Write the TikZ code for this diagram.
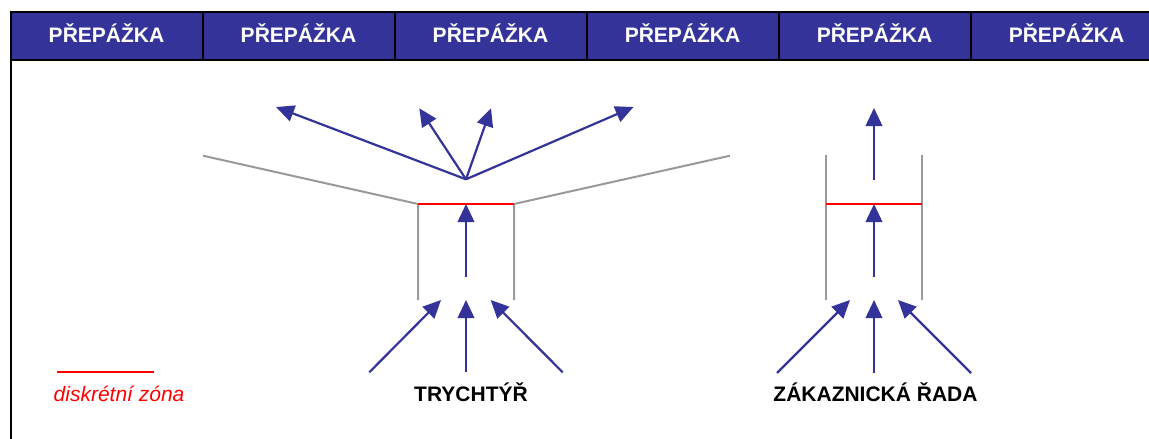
\documentclass[tikz,border=0pt]{standalone}
\usepackage{fontspec}
\setmainfont{Liberation Sans}
\usetikzlibrary{arrows.meta}
\definecolor{counterblue}{HTML}{333399}
\definecolor{wallgray}{HTML}{999999}
\definecolor{zonered}{HTML}{FF0000}
\tikzset{
  rule/.style={draw=black, line width=2pt},
  countertext/.style={text=white, font=\fontsize{21}{25}\selectfont\bfseries, anchor=base, inner sep=0pt},
  wall/.style={draw=wallgray, line width=2pt},
  zone/.style={draw=zonered, line width=2pt},
  flow/.style={draw=counterblue, line width=2.2pt, -{Triangle[length=18pt,width=16.5pt]}},
  caption/.style={font=\fontsize{21}{25}\selectfont\bfseries, anchor=base, inner sep=0pt},
}
\begin{document}
\begin{tikzpicture}[x=1pt,y=-1pt]
\useasboundingbox (0,0) rectangle (1149,439);
\fill[white] (0,0) rectangle (1149,439);

% row of counters: blue band, top and bottom rules, dividers
\fill[counterblue] (10.5,12) rectangle (1149,59.5);
\draw[rule, line cap=butt] (9.5,12) -- (1149,12);
\draw[rule, line cap=butt] (9.5,59.5) -- (1149,59.5);
\foreach \i in {0,...,5} {
  \draw[rule] (10.5+192*\i,12) -- (10.5+192*\i,59.5);
  \node[countertext] (counter\i) at (106.5+192*\i,42.7) {PŘEPÁŽKA};
}

% outer frame, left edge
\draw[rule, line cap=butt] (10.5,12) -- (10.5,439);

% ---- funnel ----
\coordinate (fOL) at (203,155.7);
\coordinate (fOR) at (730,155.7);
\coordinate (fTL) at (418,204);
\coordinate (fTR) at (514,204);
\coordinate (fBL) at (418,300);
\coordinate (fBR) at (514,300);
\draw[wall] (fOL) -- (fTL) -- (fBL);
\draw[wall] (fOR) -- (fTR) -- (fBR);
\draw[zone] (fTL) -- (fTR);

\coordinate (fHub) at (466,179.3);
\coordinate (fOut1) at (276,107);
\coordinate (fOut2) at (419.3,108.3);
\coordinate (fOut3) at (491,108.3);
\coordinate (fOut4) at (633.5,107);
\foreach \k in {1,...,4} \draw[flow] (fHub) -- (fOut\k);

\coordinate (fMidS) at (466,277);
\coordinate (fMidE) at (466,204);
\draw[flow] (fMidS) -- (fMidE);

\coordinate (fInS1) at (369.3,372.3);
\coordinate (fInE1) at (441,300);
\coordinate (fInS2) at (466,372.3);
\coordinate (fInE2) at (466,300);
\coordinate (fInS3) at (562.7,372.3);
\coordinate (fInE3) at (490.7,300);
\foreach \k in {1,2,3} \draw[flow] (fInS\k) -- (fInE\k);

\node[caption] (funnel) at (471,401.7) {TRYCHTÝŘ};

% ---- customer queue ----
\coordinate (qTL) at (826,155);
\coordinate (qBL) at (826,300);
\coordinate (qTR) at (922,155);
\coordinate (qBR) at (922,300);
\coordinate (qZL) at (826,204);
\coordinate (qZR) at (922,204);
\draw[wall] (qTL) -- (qBL);
\draw[wall] (qTR) -- (qBR);
\draw[zone] (qZL) -- (qZR);

\coordinate (qTopS) at (874,180);
\coordinate (qTopE) at (874,108);
\draw[flow] (qTopS) -- (qTopE);
\coordinate (qMidS) at (874,277);
\coordinate (qMidE) at (874,204);
\draw[flow] (qMidS) -- (qMidE);

\coordinate (qInS1) at (777,373);
\coordinate (qInE1) at (850,300);
\coordinate (qInS2) at (874,373);
\coordinate (qInE2) at (874,300);
\coordinate (qInS3) at (971,373);
\coordinate (qInE3) at (898,300);
\foreach \k in {1,2,3} \draw[flow] (qInS\k) -- (qInE\k);

\node[caption] (queue) at (875.5,401.7) {ZÁKAZNICKÁ ŘADA};

% ---- legend ----
\coordinate (lgA) at (57.3,371.7);
\coordinate (lgB) at (154.3,371.7);
\draw[zone] (lgA) -- (lgB);
\node[text=zonered, font=\fontsize{21}{25}\selectfont\itshape, anchor=base west, inner sep=0pt] (legend) at (53.5,401) {diskrétní zóna};
\end{tikzpicture}
\end{document}
